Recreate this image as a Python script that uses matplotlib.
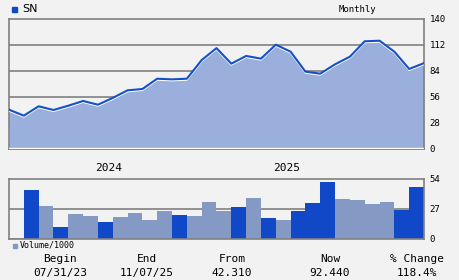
import matplotlib
matplotlib.use("Agg")
import matplotlib.pyplot as plt
from matplotlib.transforms import offset_copy

# ---- data ----
price = [42.3, 35.9, 46.0, 42.0, 46.6, 51.7, 47.7, 55.0, 63.2, 64.6, 75.7, 75.0, 75.7,
         95.8, 108.6, 91.9, 100.2, 97.3, 112.3, 104.8, 83.3, 81.1, 91.2, 99.4, 116.0,
         116.6, 104.8, 86.2, 92.44]
volume = [1.0, 44.1, 29.7, 10.8, 22.5, 20.7, 15.3, 19.8, 23.4, 17.1, 25.2, 21.6, 20.7,
          33.3, 25.2, 28.8, 36.9, 18.9, 17.1, 25.2, 32.4, 51.3, 36.0, 35.1, 31.5, 33.3,
          26.1, 46.8]
vol_dark = [0, 1, 0, 1, 0, 0, 1, 0, 0, 0, 0, 1, 0, 0, 0, 1, 0, 1, 0, 1, 1, 1, 0, 0, 0, 0, 1, 1]
price_ticks = [0, 28, 56, 84, 112, 140]
vol_ticks = [0, 27, 54]
year_labels = ["2024", "2025"]
year_pos = [6.2, 18.2]
summary_heads = ["Begin", "End", "From", "Now", "% Change"]
summary_vals = ["07/31/23", "11/07/25", "42.310", "92.440", "118.4%"]

BG = "#f2f2f2"
GRID = "#808080"
LINE = "#1450c8"
FILL = "#9bafdc"
DARK = "#1048c8"
LIGHT = "#8499c3"
FONT = "DejaVu Sans Mono"

W, H = 460, 280
fig = plt.figure(figsize=(W / 100, H / 100), dpi=100, facecolor=BG)

def ax_rect(l, t, r, b):
    return [l / W, 1 - b / H, (r - l) / W, (b - t) / H]

# ---- price panel ----
ax = fig.add_axes(ax_rect(9, 19, 424, 149))
ax.set_facecolor(BG)
xs = [i - 0.5 for i in range(len(price))]
ax.fill_between(xs, 0, price, color=FILL, lw=0, zorder=2)
shadow = offset_copy(ax.transData, fig=fig, x=0, y=-1.2, units="dots")
ax.plot(xs, price, color="white", lw=1.2, transform=shadow, zorder=3)
ax.plot(xs, price, color=LINE, lw=1.5, zorder=4)
ax.set_xlim(-0.5, len(volume) - 0.5)
ax.set_ylim(0, 140)
for v in price_ticks[1:-1]:
    ax.axhline(v, color=GRID, lw=1.2, zorder=1)
ax.axhline(0.8, color="white", lw=1.0, zorder=3)
ax.set_yticks(price_ticks)
ax.yaxis.tick_right()
ax.tick_params(axis="y", length=0, pad=4, labelsize=6.5)
for lab in ax.get_yticklabels():
    lab.set_fontfamily(FONT)
ax.set_xticks([])
for s in ax.spines.values():
    s.set_color(GRID)
    s.set_linewidth(1.2)

# ---- volume panel ----
av = fig.add_axes(ax_rect(9, 179, 424, 239))
av.set_facecolor(BG)
cols = [DARK if d else LIGHT for d in vol_dark]
av.bar(range(len(volume)), volume, width=1.0, color=cols, lw=0, zorder=2)
av.set_xlim(-0.5, len(volume) - 0.5)
av.set_ylim(0, 54)
av.axhline(27, color=GRID, lw=1.2, zorder=1)
av.set_yticks(vol_ticks)
av.yaxis.tick_right()
av.tick_params(axis="y", length=0, pad=4, labelsize=6.5)
for lab in av.get_yticklabels():
    lab.set_fontfamily(FONT)
av.set_xticks([])
for s in av.spines.values():
    s.set_color(GRID)
    s.set_linewidth(1.2)

# year labels above volume panel
for lab, p in zip(year_labels, year_pos):
    av.text(p, 1.1, lab, transform=av.get_xaxis_transform(), ha="center", va="bottom",
            fontsize=8, fontfamily=FONT, color="black")

# ---- header texts ----
def px(x, y):
    return x / W, 1 - y / H

fig.patches.append(plt.Rectangle(px(12, 12), 5 / W, 5 / H, transform=fig.transFigure,
                                 color=DARK, figure=fig))
fig.text(*px(22, 9.5), "SN", ha="left", va="center", fontsize=8, fontfamily="DejaVu Sans")
fig.text(*px(357, 9.5), "Monthly", ha="center", va="center", fontsize=6.5, fontfamily=FONT)

fig.patches.append(plt.Rectangle(px(13, 248), 4 / W, 4 / H, transform=fig.transFigure,
                                 color=LIGHT, figure=fig))
fig.text(*px(20, 245.5), "Volume/1000", ha="left", va="center", fontsize=6, fontfamily=FONT)

# ---- summary row ----
sum_x = [60, 147, 232, 330, 417]
for x, h, v in zip(sum_x, summary_heads, summary_vals):
    fig.text(*px(x, 259), h, ha="center", va="center", fontsize=8, fontfamily=FONT)
    fig.text(*px(x, 273), v, ha="center", va="center", fontsize=8, fontfamily=FONT)

fig.savefig("out.png", dpi=100, facecolor=BG)
